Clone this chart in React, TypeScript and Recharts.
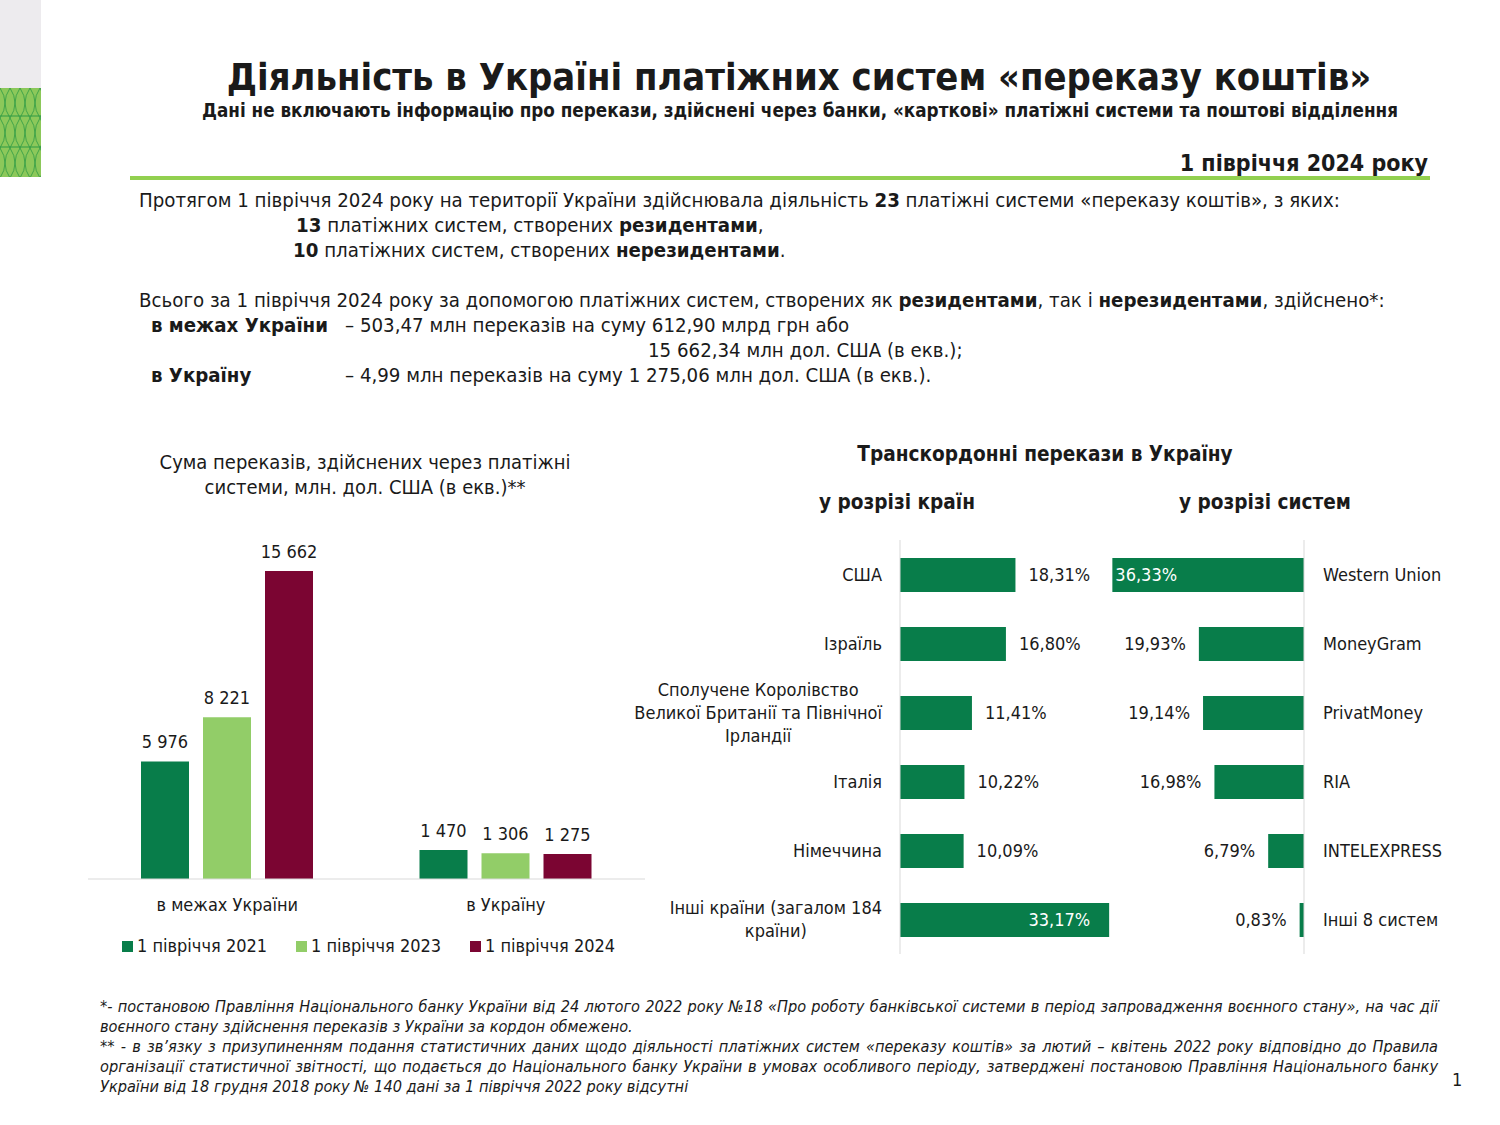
import React from "react";
import { BarChart, Bar, XAxis, YAxis, LabelList } from "recharts";

const groups = ["в межах України", "в Україну"];
const seriesNames = ["1 півріччя 2021", "1 півріччя 2023", "1 півріччя 2024"];
const h2021 = [5976, 1470];
const h2023 = [8221, 1306];
const h2024 = [15662, 1275];

const countries = [
  "США",
  "Ізраїль",
  "Сполучене Королівство\nВеликої Британії та Північної\nІрландії",
  "Італія",
  "Німеччина",
  "Інші країни (загалом 184\nкраїни)",
];
const countryShares = [18.31, 16.8, 11.41, 10.22, 10.09, 33.17];

const systems = ["Western Union", "MoneyGram", "PrivatMoney", "RIA", "INTELEXPRESS", "Інші 8 систем"];
const systemShares = [36.33, 19.93, 19.14, 16.98, 6.79, 0.83];

const FONT = "'DejaVu Sans Condensed', 'DejaVu Sans', sans-serif";
const TEXT = "#1a1a1a";
const DARK = "#087d4a";
const LIGHT = "#92cd68";
const WINE = "#7b0532";
const COLORS = [DARK, LIGHT, WINE];

const groupData = groups.map((g, i) => ({ name: g, a: h2021[i], b: h2023[i], c: h2024[i] }));
const countryData = countries.map((c, i) => ({ name: c, v: countryShares[i] }));
const systemData = systems.map((s, i) => ({ name: s, v: systemShares[i] }));

const thousands = (v: number) => String(v).replace(/\B(?=(\d{3})+(?!\d))/g, " ");
const pct = (v: number) => v.toFixed(2).replace(".", ",") + "%";

let canvas: HTMLCanvasElement | null = null;
function textWidth(s: string, font: string) {
  if (!canvas) canvas = document.createElement("canvas");
  const ctx = canvas.getContext("2d")!;
  ctx.font = font;
  return ctx.measureText(s).width;
}

const CountryTick = (props: any) => {
  const { x, y, payload } = props;
  const lines = String(payload.value).split("\n");
  if (lines.length === 1) {
    return (
      <text x={x} y={y} dy="0.35em" textAnchor="end" fill={TEXT} fontSize={18} fontFamily={FONT}>
        {lines[0]}
      </text>
    );
  }
  const w = Math.max(...lines.map((l) => textWidth(l, `18px ${FONT}`)));
  const cx = x - w / 2;
  return (
    <text textAnchor="middle" fill={TEXT} fontSize={18} fontFamily={FONT}>
      {lines.map((l, i) => (
        <tspan key={i} x={cx} y={y + (i - (lines.length - 1) / 2) * 23} dy="0.35em">
          {l}
        </tspan>
      ))}
    </text>
  );
};

const CountryLabel = (props: any) => {
  const { x, y, width, height, value } = props;
  const right = Math.max(x, x + width);
  const inside = value > 30;
  return (
    <text
      x={inside ? right - 19 : right + 13}
      y={y + height / 2}
      dy="0.35em"
      textAnchor={inside ? "end" : "start"}
      fill={inside ? "#fff" : TEXT}
      fontSize={18}
      fontFamily={FONT}
    >
      {pct(value)}
    </text>
  );
};

const SystemLabel = (props: any) => {
  const { x, y, width, height, value } = props;
  const left = Math.min(x, x + width);
  const inside = value > 30;
  return (
    <text
      x={inside ? left + 3 : left - 13}
      y={y + height / 2}
      dy="0.35em"
      textAnchor={inside ? "start" : "end"}
      fill={inside ? "#fff" : TEXT}
      fontSize={18}
      fontFamily={FONT}
    >
      {pct(value)}
    </text>
  );
};

function Line({ top, left, children, style }: any) {
  return (
    <div style={{ position: "absolute", top, left, whiteSpace: "nowrap", lineHeight: "25px", ...style }}>
      {children}
    </div>
  );
}

function Ornament() {
  const waves = [];
  for (let i = 0; i <= 4; i++) {
    const x0 = i * 10;
    waves.push(
      <path
        key={"a" + i}
        d={`M${x0} 0 Q${x0 + 10} 15 ${x0} 30 Q${x0 - 10} 45 ${x0} 60 Q${x0 + 10} 75 ${x0} 90`}
        stroke="#2f9a45"
        strokeWidth={0.8}
        fill="none"
      />,
      <path
        key={"b" + i}
        d={`M${x0} 0 Q${x0 - 10} 15 ${x0} 30 Q${x0 + 10} 45 ${x0} 60 Q${x0 - 10} 75 ${x0} 90`}
        stroke="#2f9a45"
        strokeWidth={0.8}
        fill="none"
      />
    );
  }
  return (
    <svg width={41} height={177} style={{ position: "absolute", left: 0, top: 0 }}>
      <rect x={0} y={0} width={41} height={88} fill="#edebee" />
      <g transform="translate(0,88)">
        <rect x={0} y={0} width={41} height={89} fill="#8cc85a" />
        {waves}
        <line x1={0} x2={41} y1={28} y2={28} stroke="#2f9a45" strokeWidth={1} />
        <line x1={0} x2={41} y1={59} y2={59} stroke="#2f9a45" strokeWidth={1} />
      </g>
    </svg>
  );
}

const footLine = { whiteSpace: "nowrap" as const };
const footJust = { textAlign: "justify" as const, textAlignLast: "justify" as const, whiteSpace: "nowrap" as const };

export default function App() {
  return (
    <div
      style={{
        position: "absolute",
        left: 0,
        top: 0,
        width: 1500,
        height: 1125,
        background: "#fff",
        fontFamily: FONT,
        color: TEXT,
        overflow: "hidden",
      }}
    >
      <Ornament />

      <div style={{ position: "absolute", top: 54, left: 0, width: 1598, textAlign: "center", fontWeight: "bold", fontSize: 37.8, lineHeight: "46px" }}>
        Діяльність в Україні платіжних систем «переказу коштів»
      </div>
      <div style={{ position: "absolute", top: 100, left: 0, width: 1600, textAlign: "center", fontWeight: "bold", fontSize: 18.7, lineHeight: "22px" }}>
        Дані не включають інформацію про перекази, здійснені через банки, «карткові» платіжні системи та поштові відділення
      </div>
      <div style={{ position: "absolute", top: 149, right: 72, fontWeight: "bold", fontSize: 23, lineHeight: "28px" }}>
        1 півріччя 2024 року
      </div>
      <div style={{ position: "absolute", top: 176, left: 130, width: 1300, height: 4, background: "#92d050" }} />

      <div style={{ fontSize: 20.25 }}>
        <Line top={188} left={139}>
          Протягом 1 півріччя 2024 року на території України здійснювала діяльність <b>23</b> платіжні системи «переказу коштів», з яких:
        </Line>
        <Line top={213} left={296}>
          <b>13</b> платіжних систем, створених <b>резидентами</b>,
        </Line>
        <Line top={238} left={293}>
          <b>10</b> платіжних систем, створених <b>нерезидентами</b>.
        </Line>
        <Line top={288} left={139}>
          Всього за 1 півріччя 2024 року за допомогою платіжних систем, створених як <b>резидентами</b>, так і <b>нерезидентами</b>, здійснено*:
        </Line>
        <Line top={313} left={151}>
          <b>в межах України</b>
        </Line>
        <Line top={313} left={345}>
          – 503,47 млн переказів на суму 612,90 млрд грн або
        </Line>
        <Line top={338} left={648}>
          15 662,34 млн дол. США (в екв.);
        </Line>
        <Line top={363} left={151}>
          <b>в Україну</b>
        </Line>
        <Line top={363} left={345}>
          – 4,99 млн переказів на суму 1 275,06 млн дол. США (в екв.).
        </Line>
      </div>

      <div style={{ position: "absolute", top: 450, left: 65, width: 600, textAlign: "center", fontSize: 20, lineHeight: "25px" }}>
        Сума переказів, здійснених через платіжні
        <br />
        системи, млн. дол. США (в екв.)**
      </div>

      <div style={{ position: "absolute", top: 525, left: 88 }}>
        <BarChart width={557} height={404} data={groupData} margin={{ top: 0, right: 0, bottom: 0, left: 0 }} barSize={48} barGap={14}>
          <XAxis
            dataKey="name"
            height={50}
            axisLine={{ stroke: "#d9d9d9" }}
            tickLine={false}
            tickSize={0}
            tickMargin={19}
            tick={{ fill: TEXT, fontSize: 18, fontFamily: FONT }}
          />
          <YAxis hide domain={[0, 18000]} />
          {["a", "b", "c"].map((k, i) => (
            <Bar key={k} dataKey={k} fill={COLORS[i]} isAnimationActive={false}>
              <LabelList dataKey={k} position="top" offset={13} formatter={(v: any) => thousands(v)} fill={TEXT} fontSize={18} fontFamily={FONT} />
            </Bar>
          ))}
        </BarChart>
      </div>

      <div style={{ position: "absolute", top: 936, left: 0, fontSize: 18, lineHeight: "20px" }}>
        {seriesNames.map((s, i) => (
          <div key={s} style={{ position: "absolute", left: [122, 296, 470][i], top: 0, whiteSpace: "nowrap", display: "flex", alignItems: "center" }}>
            <span style={{ display: "inline-block", width: 11, height: 11, background: COLORS[i], marginRight: 4 }} />
            {s}
          </div>
        ))}
      </div>

      <div style={{ position: "absolute", top: 440, left: 795, width: 500, textAlign: "center", fontWeight: "bold", fontSize: 20.6, lineHeight: "28px" }}>
        Транскордонні перекази в Україну
      </div>
      <div style={{ position: "absolute", top: 488, left: 797, width: 200, textAlign: "center", fontWeight: "bold", fontSize: 20.6, lineHeight: "28px" }}>
        у розрізі країн
      </div>
      <div style={{ position: "absolute", top: 488, left: 1165, width: 200, textAlign: "center", fontWeight: "bold", fontSize: 20.6, lineHeight: "28px" }}>
        у розрізі систем
      </div>

      <div style={{ position: "absolute", top: 540, left: 600 }}>
        <BarChart width={527} height={414} data={countryData} layout="vertical" margin={{ top: 0, right: 0, bottom: 0, left: 0 }} barSize={34}>
          <XAxis type="number" hide domain={[0, 36]} />
          <YAxis
            type="category"
            dataKey="name"
            width={300}
            axisLine={{ stroke: "#d9d9d9" }}
            tickLine={false}
            tickSize={0}
            tickMargin={18}
            tick={<CountryTick />}
            interval={0}
          />
          <Bar dataKey="v" fill={DARK} isAnimationActive={false}>
            <LabelList dataKey="v" content={<CountryLabel />} />
          </Bar>
        </BarChart>
      </div>

      <div style={{ position: "absolute", top: 540, left: 1093 }}>
        <BarChart width={401} height={414} data={systemData} layout="vertical" margin={{ top: 0, right: 0, bottom: 0, left: 0 }} barSize={34}>
          <XAxis type="number" hide domain={[0, 40]} reversed />
          <YAxis
            type="category"
            dataKey="name"
            orientation="right"
            width={190}
            axisLine={{ stroke: "#d9d9d9" }}
            tickLine={false}
            tickSize={0}
            tickMargin={19}
            tick={{ fill: TEXT, fontSize: 18, fontFamily: FONT, textAnchor: "start" }}
            interval={0}
          />
          <Bar dataKey="v" fill={DARK} isAnimationActive={false}>
            <LabelList dataKey="v" content={<SystemLabel />} />
          </Bar>
        </BarChart>
      </div>

      <div style={{ position: "absolute", top: 997, left: 100, width: 1338, fontStyle: "italic", fontSize: 16.2, lineHeight: "20px" }}>
        <div style={footJust}>
          *- постановою Правління Національного банку України від 24 лютого 2022 року №18 «Про роботу банківської системи в період запровадження воєнного стану», на час дії
        </div>
        <div style={footLine}>воєнного стану здійснення переказів з України за кордон обмежено.</div>
        <div style={footJust}>
          ** - в зв’язку з призупиненням подання статистичних даних щодо діяльності платіжних систем «переказу коштів» за лютий – квітень 2022 року відповідно до Правила
        </div>
        <div style={footJust}>
          організації статистичної звітності, що подається до Національного банку України в умовах особливого періоду, затверджені постановою Правління Національного банку
        </div>
        <div style={footLine}>України від 18 грудня 2018 року № 140 дані за 1 півріччя 2022 року відсутні</div>
      </div>
      <div style={{ position: "absolute", top: 1068, left: 1452, fontSize: 18, lineHeight: "24px" }}>1</div>
    </div>
  );
}
